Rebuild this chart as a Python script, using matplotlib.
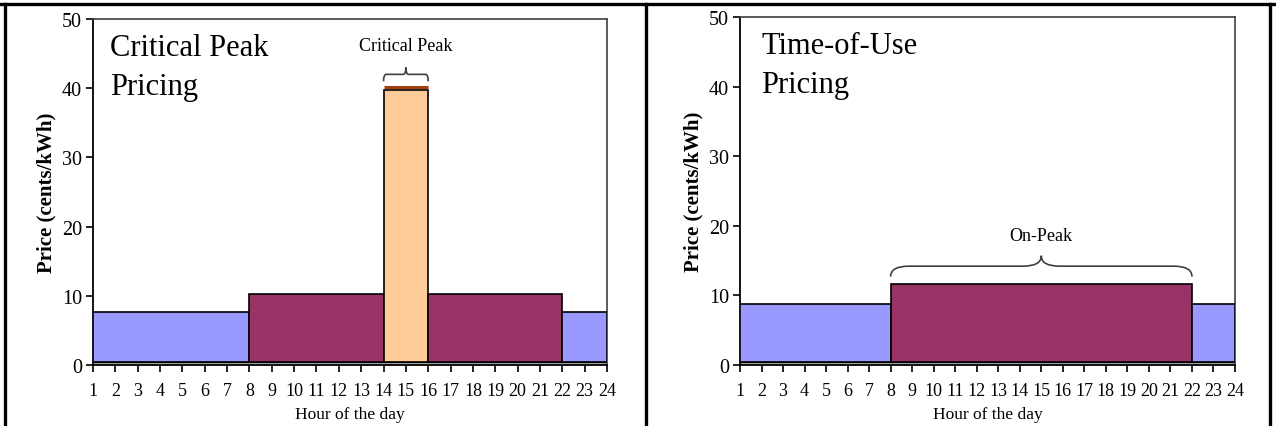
import matplotlib
matplotlib.use("Agg")
import matplotlib.pyplot as plt
from matplotlib.lines import Line2D
from matplotlib.path import Path
from matplotlib.patches import PathPatch

plt.rcParams['font.family'] = ['Liberation Serif', 'DejaVu Serif']

# ---- data ----
hours = list(range(1, 25))
cpp_starts = [1, 8, 14, 16, 22]
cpp_ends = [8, 14, 16, 22, 24]
cpp_prices = [7.7, 10.2, 39.8, 10.2, 7.7]
cpp_colors = ['#9999FF', '#993366', '#FFCC99', '#993366', '#9999FF']
cpp_peak_line = 40.2

tou_starts = [1, 8, 22]
tou_ends = [8, 22, 24]
tou_prices = [8.8, 11.6, 8.8]
tou_colors = ['#9999FF', '#993366', '#9999FF']

y_ticks = [0, 10, 20, 30, 40, 50]
base = 0.4

W, H = 1276, 427
fig = plt.figure(figsize=(W / 100, H / 100), dpi=100)


def px_axes(x0, x1, ytop, ybot):
    return fig.add_axes([x0 / W, (H - ybot) / H, (x1 - x0) / W, (ybot - ytop) / H])


def brace(ax, x0, x1, y_end, y_mid, y_tip, color='#404040'):
    xm = (x0 + x1) / 2
    dx = (x1 - x0) * 0.06
    verts = [
        (x0, y_end), (x0, y_mid), (x0 + dx, y_mid),
        (xm - dx, y_mid),
        (xm, y_mid), (xm, y_tip),
        (xm, y_mid), (xm + dx, y_mid),
        (x1 - dx, y_mid),
        (x1, y_mid), (x1, y_end),
    ]
    codes = [Path.MOVETO, Path.CURVE3, Path.CURVE3,
             Path.LINETO,
             Path.CURVE3, Path.CURVE3,
             Path.CURVE3, Path.CURVE3,
             Path.LINETO,
             Path.CURVE3, Path.CURVE3]
    ax.add_patch(PathPatch(Path(verts, codes), fill=False, lw=1.2,
                           edgecolor=color, clip_on=False))


def style_axes(ax):
    ax.set_xlim(1, 24)
    ax.set_ylim(0, 50)
    ax.set_xticks(hours)
    ax.set_xticklabels([str(h) for h in hours], fontsize=13)
    ax.set_yticks(y_ticks)
    ax.set_yticklabels([str(v) for v in y_ticks], fontsize=14.5)
    ax.tick_params(axis='both', direction='out', length=5, width=1.2, colors='black')
    ax.tick_params(axis='x', pad=7)
    ax.tick_params(axis='y', pad=3)
    for s in ['left', 'bottom']:
        ax.spines[s].set_color('black')
        ax.spines[s].set_linewidth(1.3)
    for s in ['top', 'right']:
        ax.spines[s].set_color('#404040')
        ax.spines[s].set_linewidth(1.2)
    ax.axhspan(0, base, color='#c8c8c8', zorder=1, lw=0)
    ax.axhline(base, color='black', lw=1.0, zorder=2)
    ax.set_xlabel('Hour of the day', fontsize=12.5, labelpad=5)
    ax.set_ylabel('Price (cents/kWh)', fontsize=15, fontweight='bold', labelpad=4)


# ---- left: Critical Peak Pricing ----
ax1 = px_axes(93, 607, 20, 366)
widths = [e - s for s, e in zip(cpp_starts, cpp_ends)]
heights = [p - base for p in cpp_prices]
ax1.bar(cpp_starts, heights, width=widths, bottom=base, align='edge',
        color=cpp_colors, edgecolor='black', linewidth=1.2, zorder=3)
ax1.plot([cpp_starts[2], cpp_ends[2]], [cpp_peak_line, cpp_peak_line],
         color='#A0400F', lw=2.2, zorder=4, solid_capstyle='butt')
style_axes(ax1)
ax1.text(1.75, 48.0, 'Critical Peak\nPricing', fontsize=22, va='top', ha='left',
         linespacing=1.45)
brace(ax1, 14, 16, 41.0, 42.0, 43.0)
ax1.text(15, 46.1, 'Critical Peak', fontsize=13, ha='center', va='center')

# ---- right: Time-of-Use Pricing ----
ax2 = px_axes(740, 1235, 18, 366)
widths = [e - s for s, e in zip(tou_starts, tou_ends)]
heights = [p - base for p in tou_prices]
ax2.bar(tou_starts, heights, width=widths, bottom=base, align='edge',
        color=tou_colors, edgecolor='black', linewidth=1.2, zorder=3)
style_axes(ax2)
ax2.text(2.0, 48.0, 'Time-of-Use\nPricing', fontsize=22, va='top', ha='left',
         linespacing=1.45)
brace(ax2, 8, 22, 12.7, 14.2, 15.7)
ax2.text(15, 18.6, 'On-Peak', fontsize=13, ha='center', va='center')

# ---- panel frame lines ----
def fline(x0, y0, x1, y1):
    fig.add_artist(Line2D([x0 / W, x1 / W], [1 - y0 / H, 1 - y1 / H],
                          color='black', lw=2.4, transform=fig.transFigure))

fline(0, 5, W, 5)
fline(5, 5, 5, H)
fline(646, 5, 646, H)
fline(1270, 5, 1270, H)

fig.savefig('out.png', dpi=100)
